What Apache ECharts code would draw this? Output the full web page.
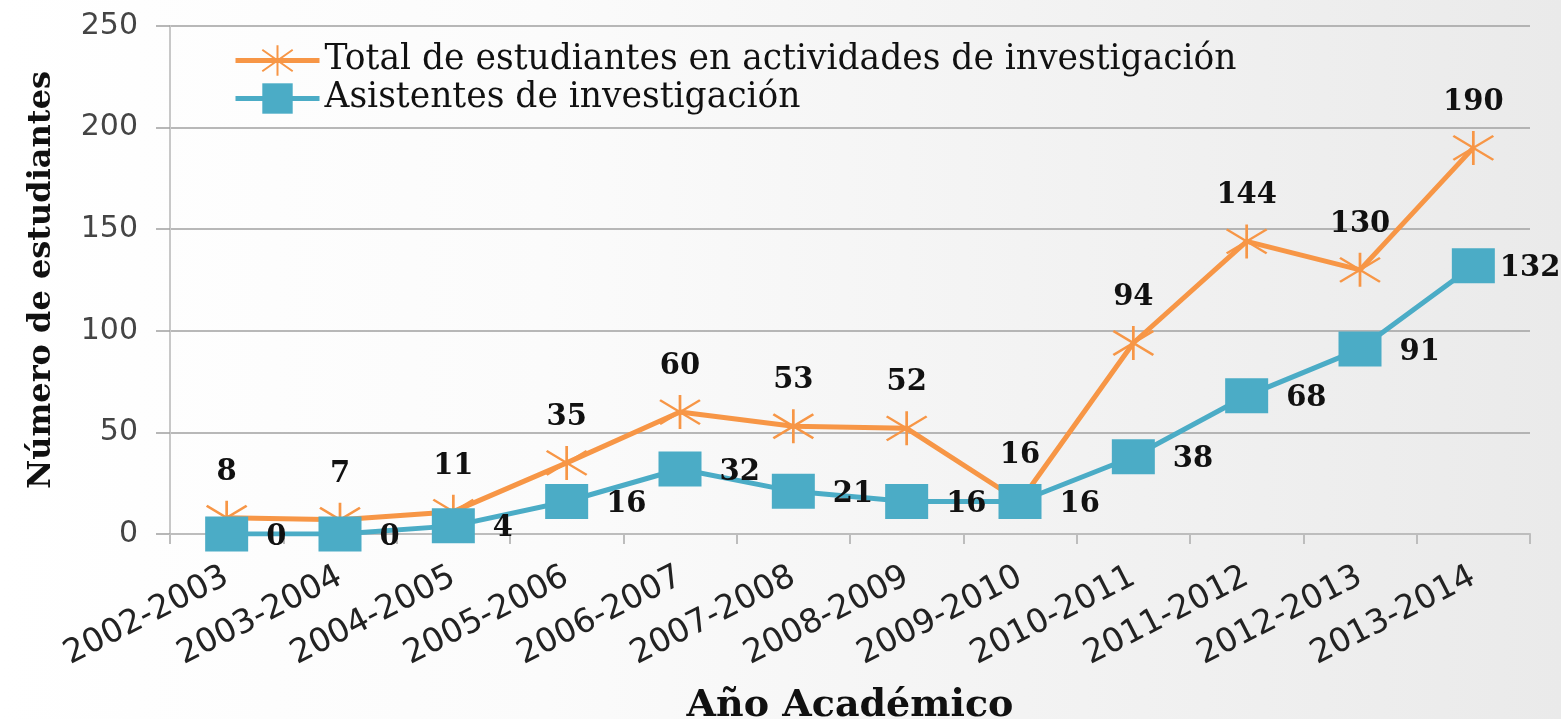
<!DOCTYPE html>
<html>
<head>
<meta charset="utf-8">
<title>Estudiantes en actividades de investigación</title>
<script src="https://cdn.jsdelivr.net/npm/echarts@6/dist/echarts.min.js"></script>
<style>
	html, body { margin: 0; padding: 0; }
	#chart { width: 1561px; height: 719px; }
</style>
</head>
<body>
<div id="chart"></div>
<script>
const years = ["2002-2003", "2003-2004", "2004-2005", "2005-2006", "2006-2007", "2007-2008",
	"2008-2009", "2009-2010", "2010-2011", "2011-2012", "2012-2013", "2013-2014"];
const totalEstudiantes = [8, 7, 11, 35, 60, 53, 52, 16, 94, 144, 130, 190];
const asistentes = [0, 0, 4, 16, 32, 21, 16, 16, 38, 68, 91, 132];
const yTicks = { min: 0, max: 250, interval: 50 };

const orange = "#F79646";
const blue = "#4BACC6";
const serif = "DejaVu Serif";
// asterisco tipo marcador de Excel
const starPath = "path://M0,-17L0,17M-19,-12L19,12M-19,12L19,-12";

// la última etiqueta azul queda pegada al marcador (como en Excel)
const asistentesData = asistentes.map((v, i) =>
	i === asistentes.length - 1 ? { value: v, label: { distance: 5 } } : v
);

const myChart = echarts.init(document.getElementById("chart"));
const option = {
	backgroundColor: new echarts.graphic.LinearGradient(0, 0, 1, 0, [
		{ offset: 0, color: "#ffffff" },
		{ offset: 0.35, color: "#fbfbfb" },
		{ offset: 1, color: "#eaeaea" }
	]),
	animation: false,
	legend: {
		orient: "vertical",
		left: 228,
		top: 38,
		itemWidth: 84,
		itemHeight: 38,
		itemGap: 3,
		lineStyle: { width: 5 },
		textStyle: { fontFamily: serif, fontSize: 34.5, color: "#111" },
		data: ["Total de estudiantes en actividades de investigación", "Asistentes de investigación"]
	},
	grid: { left: 170, right: 31, top: 26, bottom: 185, outerBoundsMode: "none" },
	xAxis: {
		type: "category",
		boundaryGap: true,
		data: years,
		name: "Año Académico",
		nameLocation: "middle",
		nameGap: 153,
		nameTextStyle: { fontFamily: serif, fontWeight: "bold", fontSize: 38, color: "#111" },
		axisLine: { lineStyle: { color: "#bdbdbd", width: 2 } },
		axisTick: { show: true, length: 10, lineStyle: { color: "#bdbdbd", width: 2 } },
		axisLabel: { rotate: 27, margin: 41, fontFamily: "DejaVu Sans", fontSize: 33, color: "#222" }
	},
	yAxis: {
		type: "value",
		min: yTicks.min,
		max: yTicks.max,
		interval: yTicks.interval,
		name: "Número de estudiantes",
		nameLocation: "middle",
		nameGap: 112,
		nameTextStyle: { fontFamily: serif, fontWeight: "bold", fontSize: 32, color: "#111" },
		axisLine: { show: true, lineStyle: { color: "#c8c8c8", width: 2 } },
		axisTick: { show: true, length: 14, lineStyle: { color: "#a0a0a0", width: 1.5 } },
		axisLabel: { margin: 32, fontFamily: "DejaVu Sans", fontSize: 30, color: "#444" },
		splitLine: { lineStyle: { color: "#a0a0a0", width: 1.5 } }
	},
	series: [
		{
			name: "Total de estudiantes en actividades de investigación",
			type: "line",
			data: totalEstudiantes,
			symbol: starPath,
			symbolSize: [40, 34],
			lineStyle: { color: orange, width: 5 },
			itemStyle: { color: orange, borderColor: orange, borderWidth: 2.5 },
			label: {
				show: true,
				position: "top",
				distance: 13,
				fontFamily: serif,
				fontWeight: "bold",
				fontSize: 29,
				color: "#111"
			}
		},
		{
			name: "Asistentes de investigación",
			type: "line",
			data: asistentesData,
			symbol: "rect",
			symbolSize: [43, 35],
			lineStyle: { color: blue, width: 5 },
			itemStyle: { color: blue },
			label: {
				show: true,
				position: "right",
				distance: 18,
				offset: [0, 3],
				fontFamily: serif,
				fontWeight: "bold",
				fontSize: 29,
				color: "#111"
			}
		}
	]
};
myChart.setOption(option);
</script>
</body>
</html>
